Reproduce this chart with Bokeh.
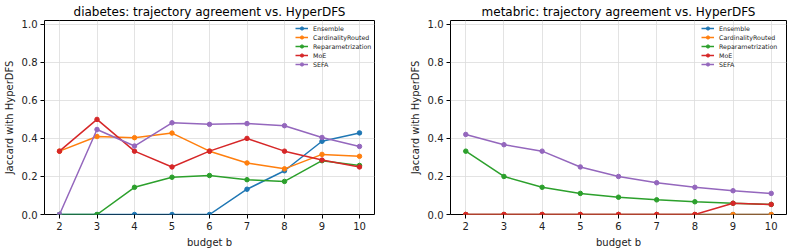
from bokeh.plotting import figure
from bokeh.layouts import row
from bokeh.models import FixedTicker, Range1d, Legend, LegendItem, CustomJSTickFormatter
from bokeh.embed import file_html
from bokeh.resources import INLINE

budgets = [2, 3, 4, 5, 6, 7, 8, 9, 10]
methods = ["Ensemble", "CardinalityRouted", "Reparametrization", "MoE", "SEFA"]
colors = ["#1f77b4", "#ff7f0e", "#2ca02c", "#d62728", "#9467bd"]

# diabetes: Jaccard overlap with the HyperDFS trajectory
diabetes_ensemble = [0.0, 0.0, 0.0, 0.0, 0.0, 0.133, 0.23, 0.385, 0.429]
diabetes_cardinality = [0.333, 0.41, 0.404, 0.428, 0.333, 0.271, 0.24, 0.316, 0.306]
diabetes_reparam = [0.0, 0.0, 0.143, 0.196, 0.205, 0.183, 0.174, 0.283, 0.258]
diabetes_moe = [0.333, 0.5, 0.333, 0.25, 0.333, 0.4, 0.333, 0.286, 0.25]
diabetes_sefa = [0.0, 0.447, 0.36, 0.482, 0.474, 0.478, 0.467, 0.405, 0.358]

# metabric: Jaccard overlap with the HyperDFS trajectory
metabric_ensemble = [0.0, 0.0, 0.0, 0.0, 0.0, 0.0, 0.0, 0.0, 0.0]
metabric_cardinality = [0.0, 0.0, 0.0, 0.0, 0.0, 0.0, 0.0, 0.0, 0.0]
metabric_reparam = [0.333, 0.2, 0.143, 0.111, 0.091, 0.077, 0.067, 0.059, 0.053]
metabric_moe = [0.0, 0.0, 0.0, 0.0, 0.0, 0.0, 0.0, 0.059, 0.053]
metabric_sefa = [0.421, 0.367, 0.333, 0.25, 0.2, 0.167, 0.143, 0.125, 0.111]

FONT = "DejaVu Sans"
HEIGHT = 250
BORDER_TOP = 20
BORDER_BOTTOM = 34


def panel(title, series, width, border_left, border_right):
    p = figure(width=width, height=HEIGHT, output_backend="svg", toolbar_location=None,
               x_range=Range1d(1.6, 10.4), y_range=Range1d(0, 1.02),
               min_border_left=border_left, min_border_right=border_right,
               min_border_top=BORDER_TOP, min_border_bottom=BORDER_BOTTOM)
    p.title.text = title
    p.title.align = "center"
    p.title.text_font = FONT
    p.title.text_font_size = "12px"
    p.title.text_font_style = "normal"
    p.title.text_color = "#000000"
    p.title.offset = 0
    p.title.standoff = 3

    p.outline_line_color = "#000000"
    p.outline_line_width = 1
    p.outline_line_alpha = 1
    p.background_fill_color = "white"
    p.border_fill_color = "white"

    p.xaxis.ticker = FixedTicker(ticks=budgets)
    p.yaxis.ticker = FixedTicker(ticks=[0.0, 0.2, 0.4, 0.6, 0.8, 1.0])
    p.yaxis.formatter = CustomJSTickFormatter(code="return tick.toFixed(1);")
    for ax in (p.xaxis, p.yaxis):
        ax.axis_line_color = None
        ax.major_tick_line_color = "#000000"
        ax.major_tick_out = 4
        ax.major_tick_in = 0
        ax.minor_tick_line_color = None
        ax.major_label_text_font = FONT
        ax.major_label_text_font_size = "10px"
        ax.major_label_text_color = "#222222"
        ax.axis_label_text_font = FONT
        ax.axis_label_text_font_size = "10px"
        ax.axis_label_text_font_style = "normal"
        ax.axis_label_text_color = "#222222"
        ax.major_label_standoff = 3
        ax.axis_label_standoff = 4
    p.xaxis.axis_label = "budget b"
    p.yaxis.axis_label = "Jaccard with HyperDFS"

    p.grid.grid_line_color = "#dcdcdc"
    p.grid.grid_line_width = 0.8

    items = []
    for name, color, vals in zip(methods, colors, series):
        ln = p.line(budgets, vals, line_color=color, line_width=1.5)
        sc = p.scatter(budgets, vals, size=4.5, fill_color=color, line_color=color)
        items.append(LegendItem(label=name, renderers=[ln, sc]))

    # legend box anchored by its lower-left corner, measured in frame pixels
    frame_h = HEIGHT - BORDER_TOP - BORDER_BOTTOM
    legend = Legend(items=items, location=(251, frame_h - 50))
    legend.background_fill_alpha = 0
    legend.border_line_color = None
    legend.label_text_font = FONT
    legend.label_text_font_size = "6.3px"
    legend.label_text_color = "#222222"
    legend.glyph_width = 13
    legend.glyph_height = 8
    legend.label_height = 8
    legend.label_standoff = 5
    legend.spacing = 1
    legend.padding = 2
    legend.margin = 0
    p.add_layout(legend)
    return p


left = panel("diabetes: trajectory agreement vs. HyperDFS",
             [diabetes_ensemble, diabetes_cardinality, diabetes_reparam, diabetes_moe, diabetes_sefa],
             396, 39, 22)
right = panel("metabric: trajectory agreement vs. HyperDFS",
              [metabric_ensemble, metabric_cardinality, metabric_reparam, metabric_moe, metabric_sefa],
              397, 54, 7)

layout = row(left, right)
open("out.html", "w").write(file_html(layout, INLINE))
